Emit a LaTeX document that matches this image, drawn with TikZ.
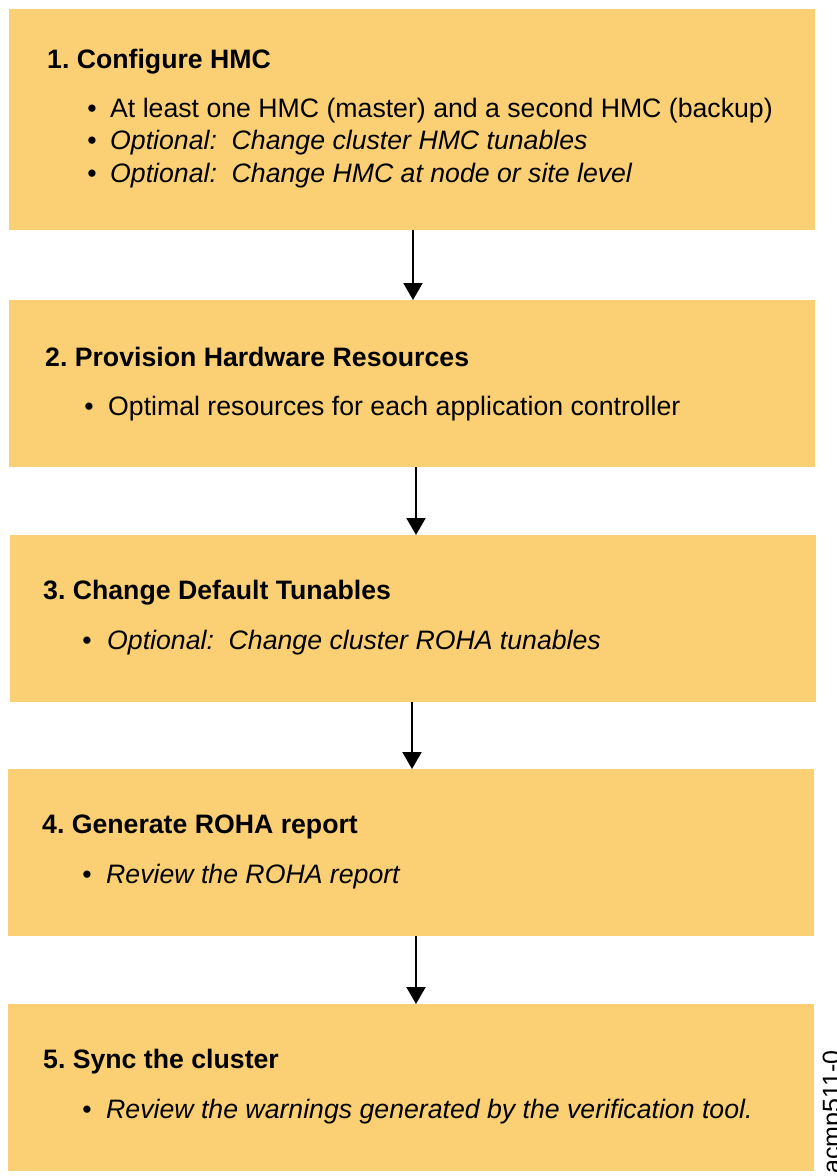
\documentclass[tikz,border=0pt]{standalone}
\usepackage{fontspec}
\setmainfont{Liberation Sans}
\usetikzlibrary{arrows.meta}
\definecolor{boxfill}{RGB}{251,208,116}
\frenchspacing
\begin{document}
\begin{tikzpicture}[x=1pt,y=-1pt,
  box/.style={fill=boxfill, draw=none, inner sep=0pt, outer sep=0pt, anchor=north west},
  ttl/.style={anchor=base west, inner sep=0pt, font=\fontsize{26.67}{30}\selectfont\bfseries},
  txt/.style={anchor=base west, inner sep=0pt, font=\fontsize{26.67}{30}\selectfont},
  itx/.style={anchor=base west, inner sep=0pt, font=\fontsize{26.67}{30}\selectfont\itshape},
  bul/.style={anchor=base, inner sep=0pt, font=\fontsize{26.67}{30}\selectfont},
  arr/.style={line width=2pt, -{Triangle[width=19pt,length=17pt]}}]
\useasboundingbox (0,0) rectangle (836,1176);

% boxes
\node[box, minimum width=806pt, minimum height=221pt] (b1) at (9,9) {};
\node[box, minimum width=806pt, minimum height=167pt] (b2) at (9,300) {};
\node[box, minimum width=806pt, minimum height=167pt] (b3) at (10,535) {};
\node[box, minimum width=806pt, minimum height=167pt] (b4) at (8,769) {};
\node[box, minimum width=806pt, minimum height=167pt] (b5) at (8,1004) {};

% box 1
\node[ttl] (t1) at (47,68) {1. Configure HMC};
\node[bul] (d1a) at (92,117) {•};
\node[txt] (l1a) at (110,117) {At least one HMC (master) and a second HMC (backup)};
\node[bul] (d1b) at (92,149.5) {•};
\node[itx] (l1b) at (110,149.5) {Optional:\ \ Change cluster HMC tunables};
\node[bul] (d1c) at (92,182) {•};
\node[itx] (l1c) at (110,182) {Optional:\ \ Change HMC at node or site level};

% box 2
\node[ttl] (t2) at (45,366) {2. Provision Hardware Resources};
\node[bul] (d2) at (89,415) {•};
\node[txt] (l2) at (108,415) {Optimal resources for each application controller};

% box 3
\node[ttl] (t3) at (43,599) {3. Change Default Tunables};
\node[bul] (d3) at (87,649) {•};
\node[itx] (l3) at (107,649) {Optional:\ \ Change cluster ROHA tunables};

% box 4
\node[ttl] (t4) at (42,833) {4. Generate ROHA report};
\node[bul] (d4) at (87,883) {•};
\node[itx] (l4) at (106,883) {Review the ROHA report};

% box 5
\node[ttl] (t5) at (43,1068) {5. Sync the cluster};
\node[bul] (d5) at (87,1118) {•};
\node[itx] (l5) at (106,1118) {Review the warnings generated by the verification tool.};

% arrows
\coordinate (x1) at (413,0);
\coordinate (x2) at (416,0);
\coordinate (x3) at (412,0);
\coordinate (x4) at (416,0);
\draw[arr] (b1.south -| x1) -- (b2.north -| x1);
\draw[arr] (b2.south -| x2) -- (b3.north -| x2);
\draw[arr] (b3.south -| x3) -- (b4.north -| x3);
\draw[arr] (b4.south -| x4) -- (b5.north -| x4);

% side label (cut off at the page edge, as in the reference)
\node[rotate=90, anchor=base east, inner sep=0pt, font=\fontsize{25}{28}\selectfont] (lbl) at (840,1050) {acmp511-0};
\end{tikzpicture}
\end{document}
